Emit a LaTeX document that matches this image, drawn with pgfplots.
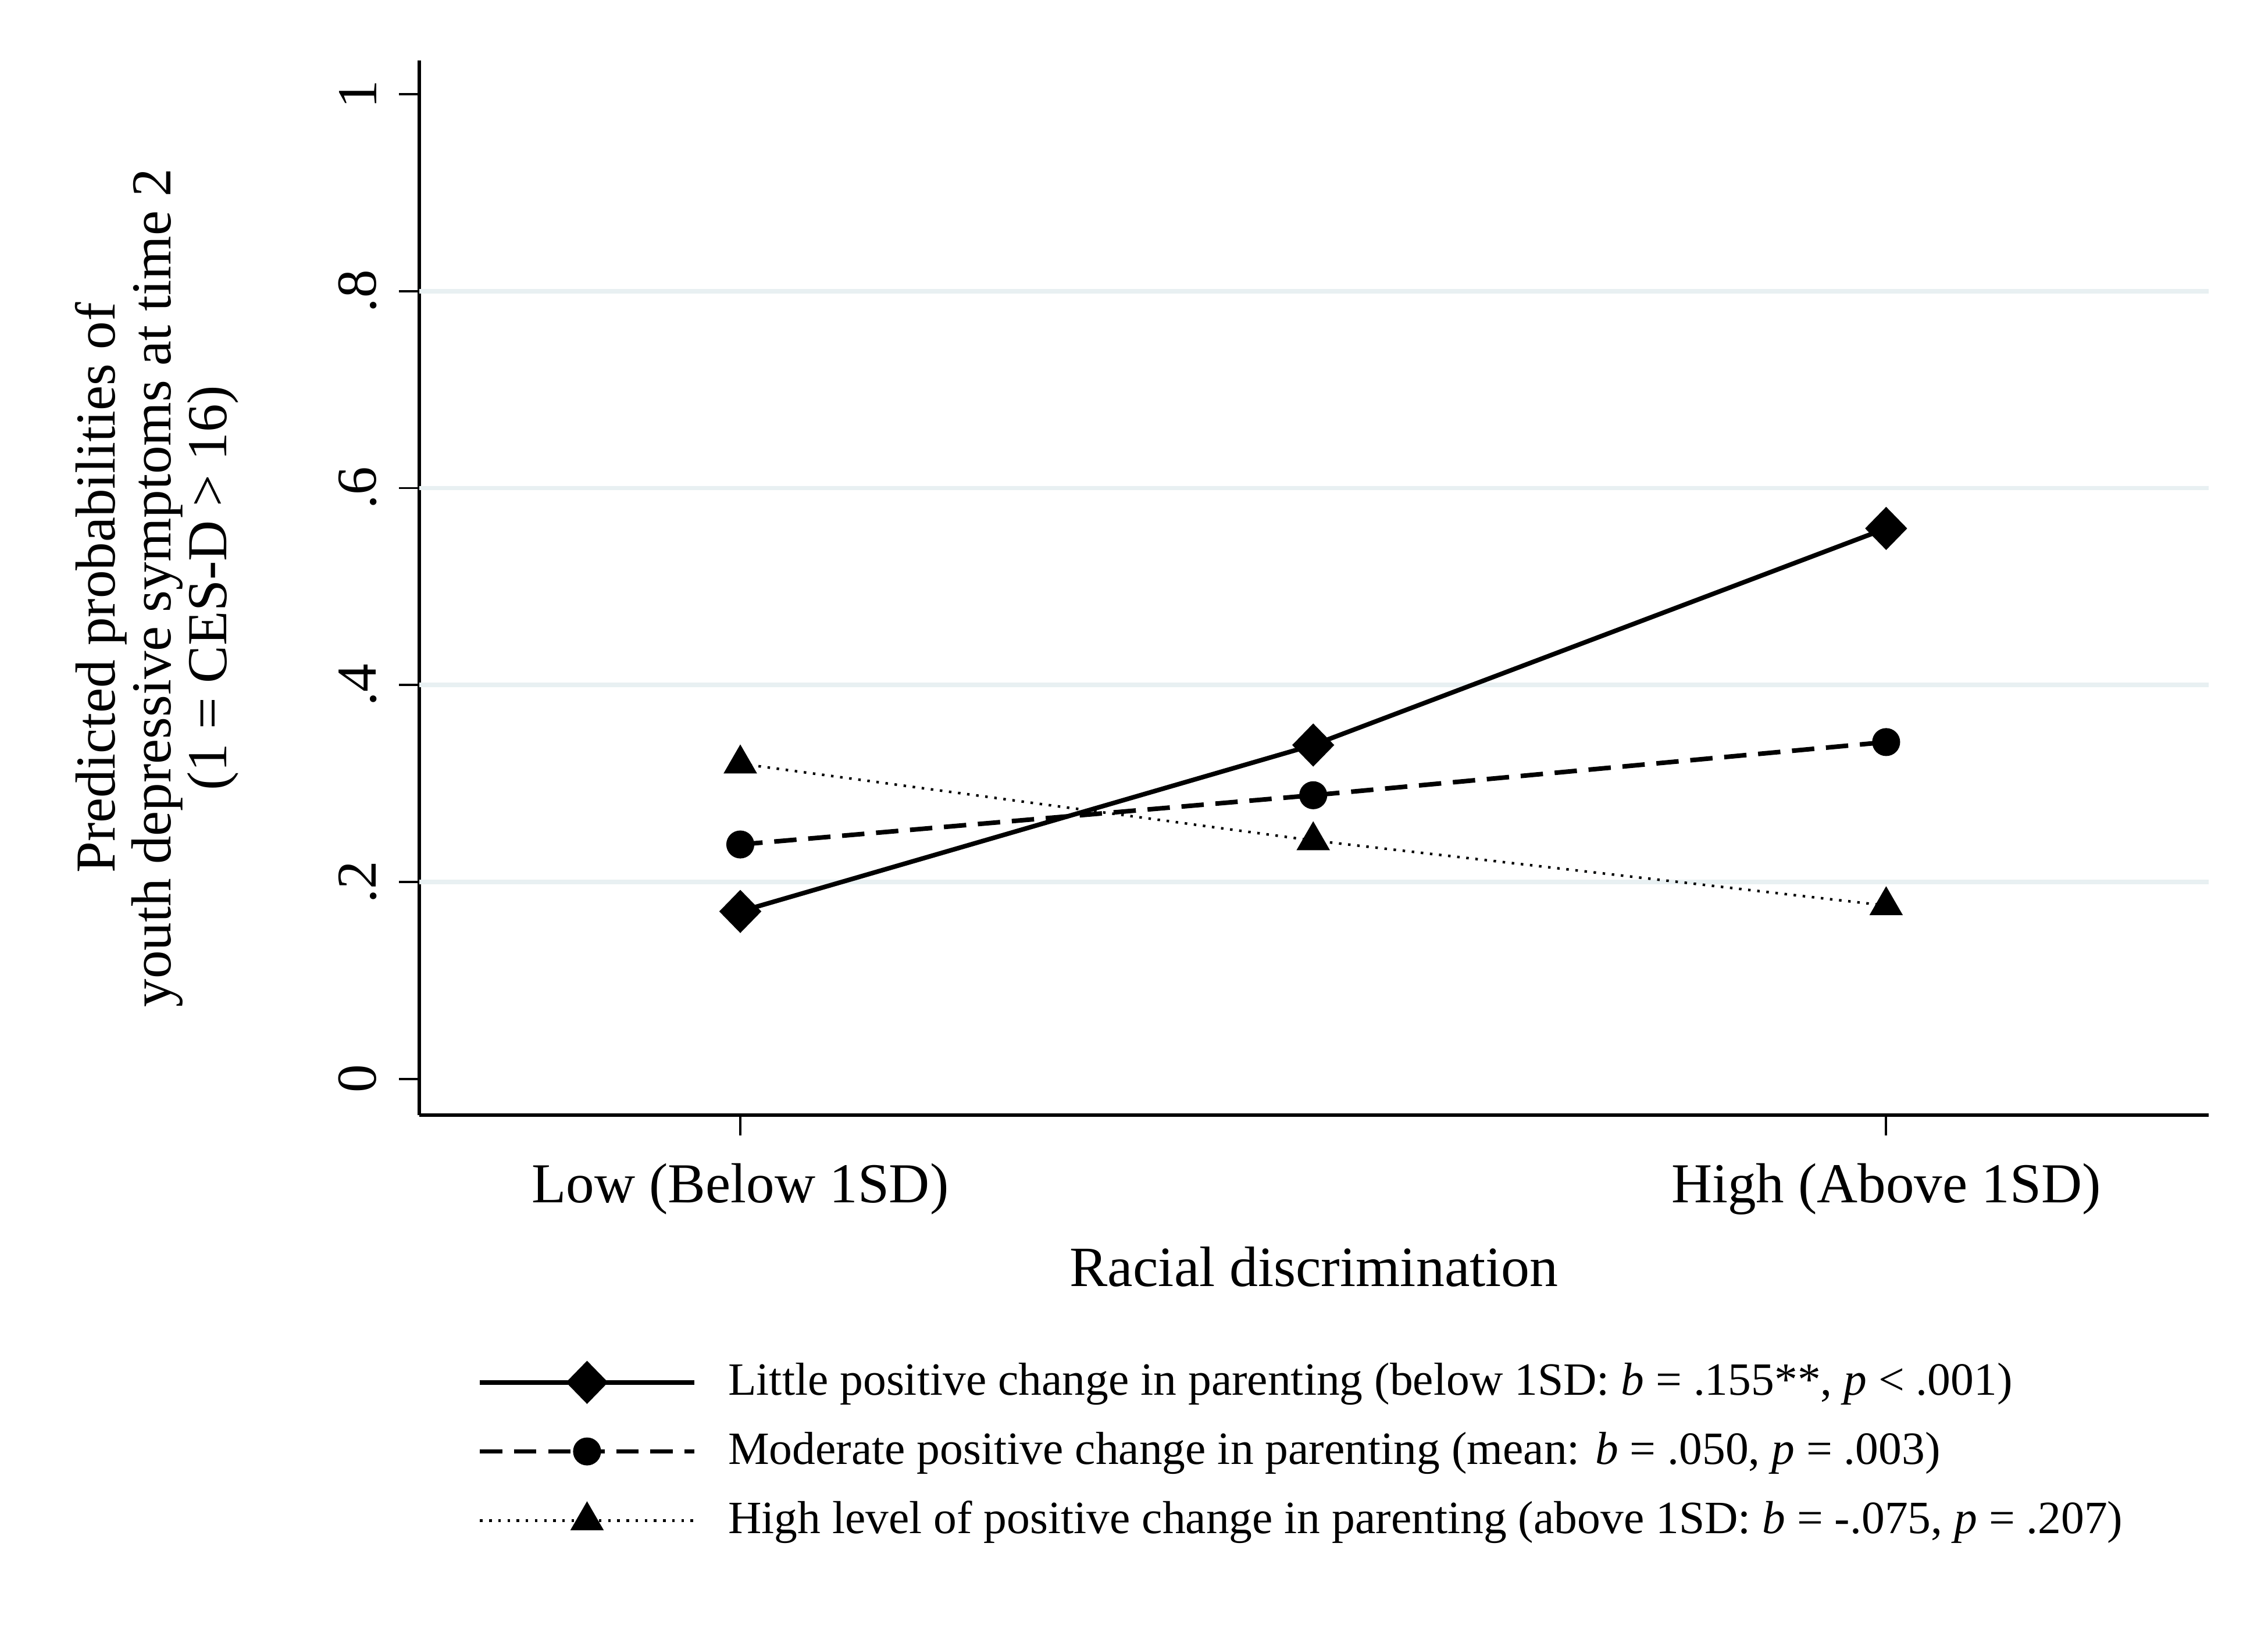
\documentclass[border=0pt]{standalone}
\usepackage{pgfplots}
\pgfplotsset{compat=1.18}
\usepackage{fontspec}
\setmainfont{Liberation Serif}
\definecolor{gridc}{RGB}{232,240,242}

\begin{document}
\begin{tikzpicture}
\path[use as bounding box, fill=white] (-2.90cm,-3.65cm) rectangle (12.78cm,7.71cm);
\begin{axis}[
  at={(0,0)}, anchor=south west,
  scale only axis, width=12.37cm, height=7.29cm,
  xmin=-0.56, xmax=2.563, ymin=-0.0367, ymax=1.034,
  axis lines=left,
  axis line style={-, line width=0.65pt, black},
  xtick={0,2}, xticklabels={Low (Below 1SD), High (Above 1SD)},
  ytick={0,0.2,0.4,0.6,0.8,1}, yticklabels={0,.2,.4,.6,.8,1},
  tick align=outside,
  major tick length=0.14cm,
  tick style={black, line width=0.45pt},
  extra y ticks={0.2,0.4,0.6,0.8},
  extra y tick labels={},
  extra y tick style={grid=major, major tick length=0pt},
  grid style={gridc, line width=0.9pt},
  /pgf/number format/assume math mode=true,
  ticklabel style={font=\fontsize{11.1}{13}\selectfont},
  yticklabel style={rotate=90, anchor=south, inner sep=0pt},
  yticklabel shift=0.15cm,
  xticklabel style={anchor=north, inner sep=0pt},
  xticklabel shift=0.19cm,
  xlabel={Racial discrimination},
  xlabel style={font=\fontsize{11.2}{13}\selectfont, at={(axis description cs:0.5,-0.144)}, anchor=center, inner sep=0pt},
  ylabel={Predicted probabilities of\\youth depressive symptoms at time 2\\(1 = CES-D > 16)},
  ylabel style={font=\fontsize{11.1}{11}\selectfont, align=center, at={(axis description cs:-0.1005,0.5)}, anchor=south, inner sep=0pt},
  legend style={at={(axis description cs:0.032,-0.231)}, anchor=north west, draw=none, fill=none,
    font=\fontsize{9.1}{11}\selectfont, inner sep=0pt, column sep=0.22cm, row sep=4.6pt,
    nodes={inner sep=0pt, text height=7pt, text depth=2pt}},
  legend cell align=left,
  legend image code/.code={\draw[mark repeat=2,mark phase=2,#1] plot coordinates {(0cm,0cm) (0.74cm,0cm) (1.48cm,0cm)};},
]
\addplot[black, solid, line width=0.9pt, mark=diamond*, mark size=3.6pt, mark options={solid, xscale=1.3}]
  coordinates {(0,0.170) (1,0.339) (2,0.559)};
\addlegendentry{Little positive change in parenting (below 1SD: \textit{b} = .155**, \textit{p} < .001)}
\addplot[black, line width=0.9pt, dash pattern=on 4.4pt off 2.3pt, mark=*, mark size=2.3pt, mark options={solid}]
  coordinates {(0,0.238) (1,0.288) (2,0.342)};
\addlegendentry{Moderate positive change in parenting (mean: \textit{b} = .050, \textit{p} = .003)}
\addplot[black, line width=0.5pt, dash pattern=on 0.5pt off 1.3pt, mark=triangle*, mark size=3.3pt, mark options={solid}]
  coordinates {(0,0.320) (1,0.242) (2,0.176)};
\addlegendentry{High level of positive change in parenting (above 1SD: \textit{b} = -.075, \textit{p} = .207)}
\end{axis}
\end{tikzpicture}
\end{document}
